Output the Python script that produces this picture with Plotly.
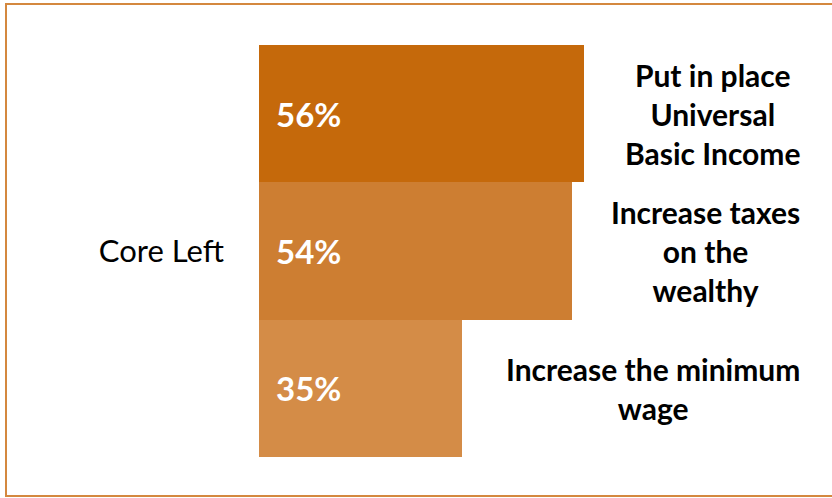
import plotly.graph_objects as go

category = ["Core Left"]
policies = ["Put in place<br>Universal<br>Basic Income",
            "Increase taxes<br>on the<br>wealthy",
            "Increase the minimum<br>wage"]
values = [56, 54, 35]
colors = ["#C5690B", "#CD7E32", "#D48C47"]

W, H = 832, 498
ml, mr, mt, mb = 259, 0, 45, 41
pw, ph = W - ml - mr, H - mt - mb
px_per_unit = 5.8
xmax = pw / px_per_unit

fig = go.Figure()
n = len(values)
# plotly draws first trace at bottom in horizontal grouped bars -> add reversed
for i in reversed(range(n)):
    fig.add_trace(go.Bar(
        y=category, x=[values[i]], orientation="h",
        marker=dict(color=colors[i], line=dict(width=0)),
        showlegend=False, hoverinfo="skip",
    ))

annotations = []
for i in range(n):
    yc = 1 - (i + 0.5) / n
    annotations.append(dict(
        xref="paper", yref="paper", x=0, y=yc, xanchor="left", yanchor="middle",
        xshift=15, text=f"<b>{values[i]}%</b>", showarrow=False,
        font=dict(family="Lato", size=33, color="white"),
    ))
    annotations.append(dict(
        xref="paper", yref="paper", x=(802 - ml) / pw, y=yc, xanchor="right", yanchor="middle",
        text=f"<b>{policies[i]}</b>", showarrow=False, align="center",
        font=dict(family="Lato", size=30, color="black"),
    ))

fig.update_layout(
    width=W, height=H,
    margin=dict(l=ml, r=mr, t=mt, b=mb),
    paper_bgcolor="white", plot_bgcolor="white",
    barmode="group", bargap=0, bargroupgap=0,
    xaxis=dict(range=[0, xmax], visible=False, fixedrange=True),
    yaxis=dict(showgrid=False, zeroline=False, showline=False, ticks="",
               ticklabelstandoff=34, fixedrange=True,
               tickfont=dict(family="Lato", size=31, color="black")),
    annotations=annotations,
    shapes=[dict(type="rect", xref="paper", yref="paper",
                 x0=(6 - ml) / pw, x1=(W + 4 - ml) / pw,
                 y0=(H - mb - 496) / ph, y1=(H - mb - 4) / ph,
                 line=dict(color="#D4883F", width=2), fillcolor="rgba(0,0,0,0)",
                 layer="below")],
)

fig.write_html("out.html", config={"displayModeBar": False},
               post_script="document.body.style.margin='0';")
